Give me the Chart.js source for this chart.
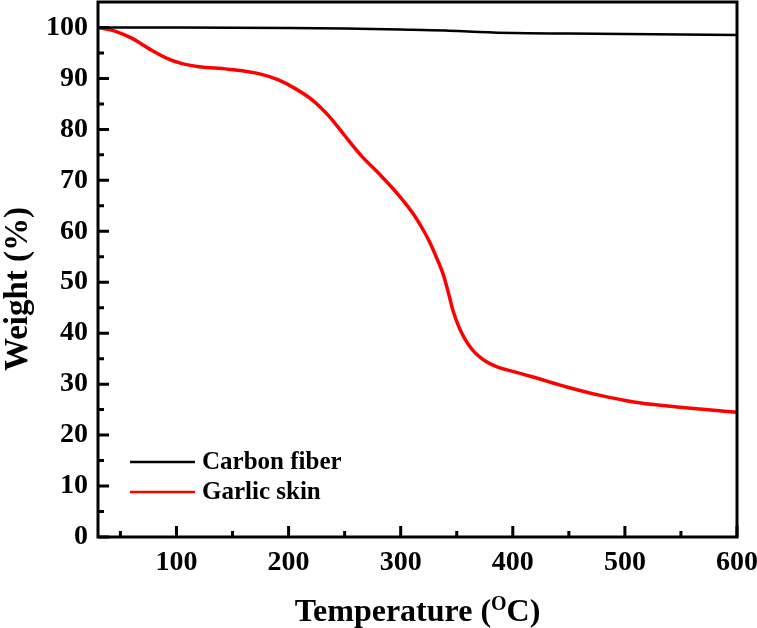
<!DOCTYPE html>
<html>
<head>
<meta charset="utf-8">
<script src="https://cdn.jsdelivr.net/npm/chart.js@4/dist/chart.umd.min.js"></script>
<style>
html,body{margin:0;padding:0;background:#fff;}
#c{display:block;}
</style>
</head>
<body>
<canvas id="c" width="757" height="628"></canvas>
<script>
// ---- data ----
const carbonTemps = [30, 100, 200, 250, 300, 340, 370, 400, 450, 500, 550, 600];
const carbonWeight = [100, 100, 99.9, 99.8, 99.6, 99.4, 99.1, 98.9, 98.8, 98.7, 98.6, 98.5];

const garlicTemps = [30, 45, 60, 75, 90, 105, 120, 146, 176, 191, 206, 221, 236, 250, 265, 282, 297, 311, 320, 326, 333, 338, 342, 347, 352, 357, 362, 368, 375, 386, 400, 418, 449, 478, 508, 538, 567, 600];
const garlicWeight = [100, 99.3, 97.9, 95.9, 94.1, 92.9, 92.3, 91.8, 90.8, 89.7, 88, 85.8, 82.6, 78.8, 74.8, 71, 67.4, 63.5, 60.3, 57.8, 54.3, 51.5, 48.4, 44.2, 41.2, 39.0, 37.3, 35.8, 34.6, 33.4, 32.5, 31.4, 29.4, 27.8, 26.5, 25.7, 25.1, 24.5];

const xMajorTicks = [100, 200, 300, 400, 500, 600];
const xMinorTicks = [50, 150, 250, 350, 450, 550];
const yMajorTicks = [0, 10, 20, 30, 40, 50, 60, 70, 80, 90, 100];
const yMinorTicks = [5, 15, 25, 35, 45, 55, 65, 75, 85, 95];

const seriesNames = ['Carbon fiber', 'Garlic skin'];
const seriesColors = ['#000000', '#ff0000'];

const FONT = "'Liberation Serif', 'Times New Roman', serif";

function pts(xs, ys) { return xs.map((x, i) => ({x: x, y: ys[i]})); }

const framePlugin = {
  id: 'frame',
  afterDatasetsDraw(chart) {
    const ctx = chart.ctx;
    const a = chart.chartArea;
    const xs = chart.scales.x, ys = chart.scales.y;
    ctx.save();
    ctx.strokeStyle = '#000';
    ctx.lineWidth = 3;
    ctx.lineCap = 'butt';
    // inward ticks
    ctx.beginPath();
    xMajorTicks.forEach(v => { const p = xs.getPixelForValue(v); ctx.moveTo(p, a.bottom); ctx.lineTo(p, a.bottom - 11); });
    xMinorTicks.forEach(v => { const p = xs.getPixelForValue(v); ctx.moveTo(p, a.bottom); ctx.lineTo(p, a.bottom - 6); });
    yMajorTicks.forEach(v => { const p = ys.getPixelForValue(v); ctx.moveTo(a.left, p); ctx.lineTo(a.left + 11, p); });
    yMinorTicks.forEach(v => { const p = ys.getPixelForValue(v); ctx.moveTo(a.left, p); ctx.lineTo(a.left + 6, p); });
    ctx.stroke();
    // box
    ctx.lineWidth = 3;
    ctx.strokeRect(a.left, a.top, a.right - a.left, a.bottom - a.top);

    // legend
    const lx0 = a.left + 32, lx1 = a.left + 97, tx = a.left + 104;
    const ly = [462, 492];
    ctx.font = 'bold 25px ' + FONT;
    ctx.textBaseline = 'middle';
    ctx.textAlign = 'left';
    chart.data.datasets.forEach((ds, i) => {
      ctx.strokeStyle = ds.borderColor;
      ctx.lineWidth = 2.5;
      ctx.beginPath();
      ctx.moveTo(lx0, ly[i]); ctx.lineTo(lx1, ly[i]);
      ctx.stroke();
      ctx.fillStyle = '#000';
      ctx.fillText(ds.label, tx, ly[i] + 1);
    });

    // x title with superscript O
    ctx.fillStyle = '#000';
    ctx.textBaseline = 'alphabetic';
    const big = 'bold 32px ' + FONT, small = 'bold 20px ' + FONT;
    const p1 = 'Temperature (', p2 = 'O', p3 = 'C)';
    ctx.font = big; const w1 = ctx.measureText(p1).width, w3 = ctx.measureText(p3).width;
    ctx.font = small; const w2 = ctx.measureText(p2).width;
    const total = w1 + w2 + w3;
    let x = (a.left + a.right) / 2 - total / 2;
    const base = 621;
    ctx.font = big; ctx.fillText(p1, x, base); x += w1;
    ctx.font = small; ctx.fillText(p2, x, base - 11); x += w2;
    ctx.font = big; ctx.fillText(p3, x, base);

    // y title
    ctx.save();
    ctx.translate(27, 289);
    ctx.rotate(-Math.PI / 2);
    ctx.textAlign = 'center';
    ctx.font = 'bold 33px ' + FONT;
    ctx.fillText('Weight (%)', 0, 0);
    ctx.restore();
    ctx.restore();
  }
};

new Chart(document.getElementById('c'), {
  type: 'line',
  data: {
    datasets: [
      { label: seriesNames[0], data: pts(carbonTemps, carbonWeight), borderColor: seriesColors[0], borderWidth: 2.5, pointRadius: 0, tension: 0.4, cubicInterpolationMode: 'monotone', fill: false },
      { label: seriesNames[1], data: pts(garlicTemps, garlicWeight), borderColor: seriesColors[1], borderWidth: 3.5, pointRadius: 0, tension: 0.4, cubicInterpolationMode: 'monotone', fill: false }
    ]
  },
  options: {
    responsive: false,
    animation: false,
    devicePixelRatio: 1,
    layout: { padding: { top: 2, right: 20, left: 0, bottom: 0 } },
    plugins: { legend: { display: false }, tooltip: { enabled: false } },
    scales: {
      x: {
        type: 'linear', min: 30, max: 600,
        afterBuildTicks: s => { s.ticks = xMajorTicks.map(v => ({value: v})); },
        afterFit: s => { s.height = 91; s.paddingLeft = 0; s.paddingRight = 0; },
        grid: { display: false, drawTicks: false },
        border: { display: false },
        ticks: { color: '#000', padding: 9, maxRotation: 0, autoSkip: false, font: { family: FONT, size: 28, weight: 'bold' } }
      },
      y: {
        type: 'linear', min: 0, max: 105,
        afterBuildTicks: s => { s.ticks = yMajorTicks.map(v => ({value: v})); },
        afterFit: s => { s.width = 98; s.paddingTop = 0; s.paddingBottom = 0; },
        grid: { display: false, drawTicks: false },
        border: { display: false },
        ticks: { color: '#000', padding: 10, autoSkip: false, font: { family: FONT, size: 28, weight: 'bold' } }
      }
    }
  },
  plugins: [framePlugin]
});
</script>
</body>
</html>
